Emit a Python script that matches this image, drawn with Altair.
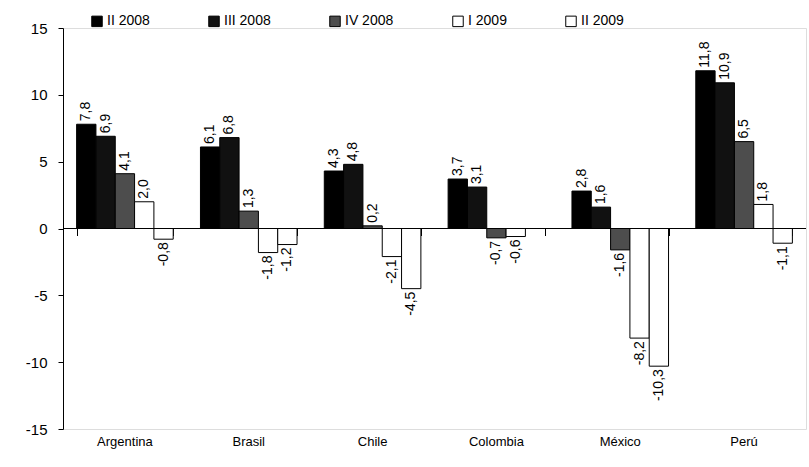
import altair as alt
import pandas as pd

countries = ["Argentina", "Brasil", "Chile", "Colombia", "México", "Perú"]
series = ["II 2008", "III 2008", "IV 2008", "I 2009", "II 2009"]
v_ii_2008 = [7.8, 6.1, 4.3, 3.7, 2.8, 11.8]
v_iii_2008 = [6.9, 6.8, 4.8, 3.1, 1.6, 10.9]
v_iv_2008 = [4.1, 1.3, 0.2, -0.7, -1.6, 6.5]
v_i_2009 = [2.0, -1.8, -2.1, -0.6, -8.2, 1.8]
v_ii_2009 = [-0.8, -1.2, -4.5, None, -10.3, -1.1]
colors = ["#000000", "#111111", "#4d4d4d", "#ffffff", "#ffffff"]

rows = []
for s, vals in zip(series, [v_ii_2008, v_iii_2008, v_iv_2008, v_i_2009, v_ii_2009]):
    for c, v in zip(countries, vals):
        if v is not None:
            rows.append({"country": c, "series": s, "value": v,
                         "label": f"{v:.1f}".replace(".", ",")})
df = pd.DataFrame(rows)

FONT = "Liberation Sans"
W, H = 743, 401

x_enc = alt.X("country:N", sort=countries, title=None,
              scale=alt.Scale(paddingInner=0.22, paddingOuter=0.11),
              axis=alt.Axis(orient="bottom", domain=False, ticks=False, labelAngle=0,
                            labelFont=FONT, labelFontSize=13, labelColor="black",
                            labelPadding=6))
xo = alt.XOffset("series:N", sort=series, scale=alt.Scale(domain=series))
y_enc = alt.Y("value:Q", title=None,
              scale=alt.Scale(domain=[-15, 15], nice=False, zero=False),
              axis=alt.Axis(values=[-15, -10, -5, 0, 5, 10, 15], grid=False,
                            domainColor="black", tickColor="black", tickSize=5,
                            labelExpr="'' + datum.value",
                            labelFont=FONT, labelFontSize=15, labelColor="black",
                            labelPadding=11))

bars = alt.Chart(df).mark_bar(stroke="black", strokeWidth=1).encode(
    x=x_enc, xOffset=xo, y=y_enc, y2=alt.datum(0),
    fill=alt.Fill("series:N", sort=series,
                  scale=alt.Scale(domain=series, range=colors),
                  legend=alt.Legend(title=None, orient="none", legendX=27, legendY=-14,
                                    direction="horizontal", columns=5,
                                    columnPadding=56, symbolType="square",
                                    symbolSize=110, symbolStrokeColor="black",
                                    symbolStrokeWidth=1, labelFont=FONT,
                                    labelFontSize=14, labelColor="black",
                                    labelOffset=3)),
)

x_plain = alt.X("country:N", sort=countries, axis=None)

pos = alt.Chart(df).transform_filter("datum.value >= 0").mark_text(
    angle=270, align="left", baseline="middle", dx=3, font=FONT, fontSize=14,
    color="black").encode(x=x_plain, xOffset=xo, y=alt.Y("value:Q"), text="label:N")
neg = alt.Chart(df).transform_filter("datum.value < 0").mark_text(
    angle=270, align="right", baseline="middle", dx=-3, font=FONT, fontSize=14,
    color="black").encode(x=x_plain, xOffset=xo, y=alt.Y("value:Q"), text="label:N")

zero_axis = alt.Chart(pd.DataFrame({"z": [0]})).mark_rule(color="black").encode(
    y=alt.Y("z:Q"),
)
zero_ticks = alt.Chart(df).mark_tick(opacity=0).encode(
    x=alt.X("country:N", sort=countries,
            axis=alt.Axis(orient="bottom", offset=-(H / 2), labels=False, domain=False,
                          tickColor="black", ticks=True, title=None,
                          tickBand="extent", tickSize=7)),
)

chart = alt.layer(bars, pos, neg, zero_axis, zero_ticks).resolve_axis(
    x="independent").properties(
    width=W, height=H,
    padding={"left": 63, "top": 28, "right": 3, "bottom": 38},
    autosize=alt.AutoSizeParams(type="none"),
).configure_view(stroke=None).configure(background="white")

chart.save("out.html", embed_options={"renderer": "svg", "actions": False})
